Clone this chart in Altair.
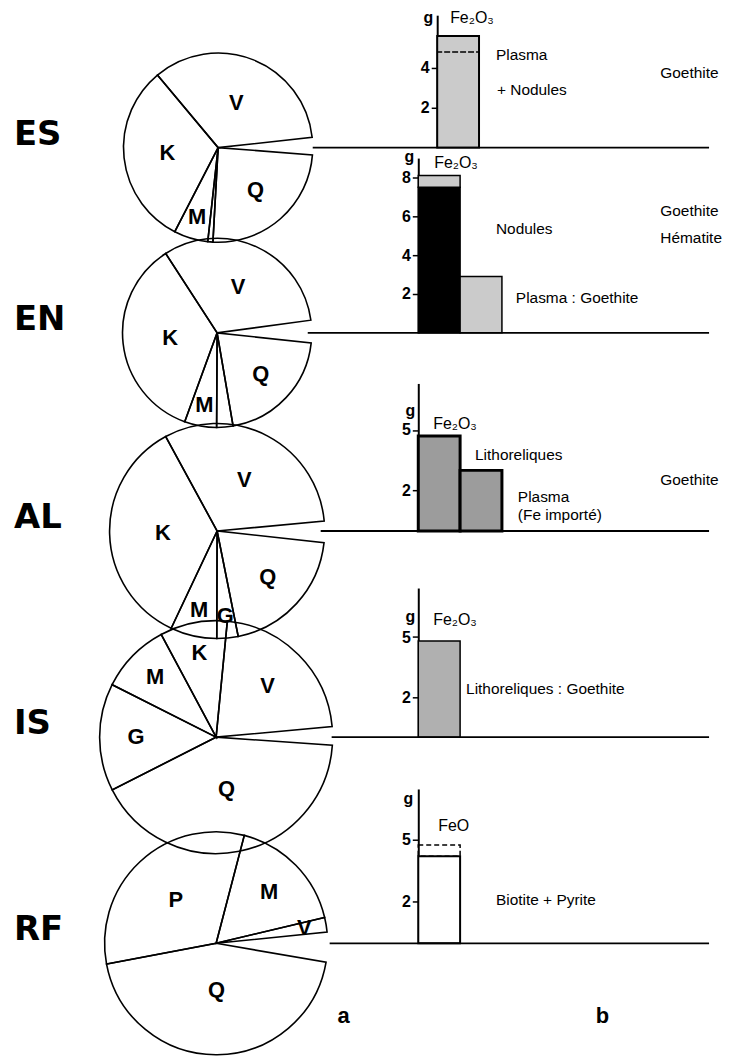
import math
import altair as alt
import pandas as pd

# ---------------- data ----------------
ROWS = ["ES", "EN", "AL", "IS", "RF"]

# a : mineral composition (share of the drawn circle, clockwise from the notch)
ES_minerals = ["Q", "", "M", "K", "V"]
ES_pct = [25.4, 0.9, 6.0, 32.3, 35.4]
EN_minerals = ["Q", "", "M", "K", "V"]
EN_pct = [21.4, 2.9, 5.7, 36.7, 33.3]
AL_minerals = ["Q", "G", "M", "K", "V"]
AL_pct = [20.8, 3.3, 7.2, 36.2, 32.5]
IS_minerals = ["Q", "G", "M", "K", "V"]
IS_pct = [42.5, 15.3, 10.0, 9.6, 22.6]
RF_minerals = ["Q", "P", "M", "V"]
RF_pct = [46.3, 33.5, 18.0, 2.2]

# b : iron oxide stocks (g)
ES_bars = ["Plasma + Nodules"]
ES_parts = ["Goethite"]
ES_g = [5.6]
ES_tex = ["light"]
ES_dash = [4.8, 4.8]          # dashed limit inside the bar

EN_bars = ["Nodules", "Nodules", "Plasma"]
EN_parts = ["Hématite", "Goethite", "Goethite"]
EN_g = [7.5, 0.6, 2.9]
EN_tex = ["black", "light", "light"]

AL_bars = ["Lithoreliques", "Plasma"]
AL_parts = ["Goethite", "Goethite"]
AL_g = [4.7, 3.0]
AL_tex = ["dark", "dark"]

IS_bars = ["Lithoreliques"]
IS_parts = ["Goethite"]
IS_g = [4.8]
IS_tex = ["mid"]

RF_bars = ["Biotite + Pyrite"]
RF_parts = ["FeO"]
RF_g = [4.2]
RF_tex = ["white"]
RF_dash = [4.2, 4.75]         # dashed extension above the bar

OXIDE = {"ES": "Fe₂O₃", "EN": "Fe₂O₃", "AL": "Fe₂O₃", "IS": "Fe₂O₃", "RF": "FeO"}
TICKS = {"ES": [2, 4], "EN": [2, 4, 6, 8], "AL": [2, 5], "IS": [2, 5], "RF": [2, 5]}

ES_notes = ["Plasma", "+ Nodules", "Goethite"]
EN_notes = ["Nodules", "Goethite", "Hématite", "Plasma : Goethite"]
AL_notes = ["Lithoreliques", "Goethite", "Plasma", "(Fe importé)"]
IS_notes = ["Lithoreliques : Goethite"]
RF_notes = ["Biotite + Pyrite"]
PANEL_LETTERS = ["a", "b"]

TEX_DOMAIN = ["light", "mid", "dark", "black", "white"]
TEX_RANGE = ["#cbcbcb", "#b0b0b0", "#9c9c9c", "#000000", "#ffffff"]

# ---------------- layout (page pixels) ----------------
RIGHT = 712
VX = 420   # left edge of the bar panels
L = {
    "ES": dict(top=8, base=146, axis=439, cx=219, R=95, t0=94.4, span=349.4, ppu=20.0, ymax=6.65,
               sw=2.0, line0=314,
               notes=[(498, 53), (499, 88), (663, 71)], g=(430, 16), ox=(452, 16)),
    "EN": dict(top=146, base=332, axis=420, cx=218, R=95, t0=96.2, span=346.1, ppu=19.5, ymax=9.0,
               sw=1.5, line0=309,
               notes=[(498, 228), (663, 210), (663, 237), (518, 297)], g=(411, 155), ox=(436, 161)),
    "AL": dict(top=332, base=531, axis=420, cx=218, R=108, t0=96.2, span=348.5, ppu=20.3, ymax=7.3,
               sw=3.0, line0=322,
               notes=[(477, 455), (663, 480), (520, 497), (520, 515)], g=(412, 411), ox=(435, 424)),
    "IS": dict(top=531, base=738, axis=420, cx=217, R=117, t0=94.0, span=350.8, ppu=20.1, ymax=7.45,
               sw=1.5, line0=333,
               notes=[(468, 690)], g=(412, 617), ox=(435, 620)),
    "RF": dict(top=738, base=945, axis=420, cx=217, R=112, t0=99.8, span=344.4, ppu=20.8, ymax=7.45,
               sw=2.0, line0=331,
               notes=[(498, 902)], g=(410, 800), ox=(440, 827)),
}

PIES = {"ES": (ES_minerals, ES_pct), "EN": (EN_minerals, EN_pct), "AL": (AL_minerals, AL_pct),
        "IS": (IS_minerals, IS_pct), "RF": (RF_minerals, RF_pct)}
BARS = {"ES": (ES_bars, ES_parts, ES_g, ES_tex), "EN": (EN_bars, EN_parts, EN_g, EN_tex),
        "AL": (AL_bars, AL_parts, AL_g, AL_tex), "IS": (IS_bars, IS_parts, IS_g, IS_tex),
        "RF": (RF_bars, RF_parts, RF_g, RF_tex)}
DASH = {"ES": ES_dash, "RF": RF_dash}
NOTES = {"ES": ES_notes, "EN": EN_notes, "AL": AL_notes, "IS": IS_notes, "RF": RF_notes}

SANS = "Liberation Sans"


def text_layer(txt, x, y, size=15.5, weight="normal", align="left", font=SANS):
    return alt.Chart(pd.DataFrame({"t": [txt]})).mark_text(
        font=font, fontSize=size, fontWeight=weight, align=align, baseline="middle", color="black"
    ).encode(text="t:N", x=alt.value(x), y=alt.value(y))


def pie_view(row):
    c = L[row]
    h = c["base"] - c["top"]
    w = VX - 8
    cx = c["cx"] - 8
    R = c["R"]
    minerals, pct = PIES[row]
    df = pd.DataFrame({"mineral": minerals, "pct": pct, "k": list(range(len(pct)))})
    a0 = math.radians(c["t0"])
    a1 = math.radians(c["t0"] + c["span"])
    base = alt.Chart(df).encode(
        theta=alt.Theta("pct:Q", stack=True, scale=alt.Scale(range=[a0, a1])),
        order=alt.Order("k:Q"),
        x=alt.value(cx),
        y=alt.value(h),
    )
    arcs = base.mark_arc(outerRadius=R, fill="transparent", stroke="black", strokeWidth=1.6)
    labels = base.mark_text(font=SANS, fontSize=22, fontWeight="bold", color="black").encode(
        radius=alt.Radius("pct:Q", scale=alt.Scale(type="linear", domain=[0, 46],
                                                     range=[0.82 * R, 0.42 * R])),
        text="mineral:N",
    )
    name = text_layer(row, 6, h - 13, size=34, weight="bold", font="DejaVu Sans")
    layers = [arcs, labels, name]
    if row == "RF":
        layers.append(text_layer(PANEL_LETTERS[0], 345 - 8, 1018 - c["top"], size=22,
                                 weight="bold", align="center"))
    return alt.layer(*layers).properties(width=w, height=h)


def bar_view(row):
    c = L[row]
    h = c["base"] - c["top"]
    w = RIGHT - VX
    ax = c["axis"] - VX
    top_px = h - c["ymax"] * c["ppu"]
    bars, parts, g, tex = BARS[row]
    df = pd.DataFrame({"bar": bars, "part": parts, "g": g, "tex": tex, "k": list(range(len(g)))})
    dom = list(dict.fromkeys(bars))
    xscale = alt.Scale(domain=dom, range=[ax, ax + 42 * len(dom)], paddingInner=0, paddingOuter=0)
    yscale = alt.Scale(domain=[0, c["ymax"]], range=[h, top_px], nice=False, zero=True)
    yaxis = alt.Axis(values=TICKS[row], title=None, grid=False, domainColor="black", domainWidth=2,
                     tickColor="black", tickWidth=1.5, tickSize=6, labelFont=SANS, labelFontSize=16,
                     labelFontWeight="bold", labelColor="black", labelPadding=2, offset=-ax)
    bars_l = alt.Chart(df).mark_bar(stroke="black", strokeWidth=c["sw"]).encode(
        x=alt.X("bar:N", scale=xscale, axis=None),
        y=alt.Y("g:Q", stack="zero", scale=yscale, axis=yaxis),
        fill=alt.Fill("tex:N", scale=alt.Scale(domain=TEX_DOMAIN, range=TEX_RANGE), legend=None),
        order=alt.Order("k:Q"),
    )
    layers = [bars_l]
    if row in DASH:
        lo, hi = DASH[row]
        ddf = pd.DataFrame({"bar": [dom[0]], "lo": [lo], "hi": [hi]})
        layers.append(
            alt.Chart(ddf).mark_bar(fill="transparent", stroke="black", strokeWidth=1.5,
                                    strokeDash=[5, 3]).encode(
                x=alt.X("bar:N", scale=xscale, axis=None),
                y=alt.Y("lo:Q", scale=yscale, axis=yaxis),
                y2="hi:Q",
            )
        )
    # baseline
    layers.append(
        alt.Chart(pd.DataFrame({"z": [0]})).mark_rule(color="black", strokeWidth=1.8).encode(
            x=alt.value(c["line0"] - VX), x2=alt.value(w), y=alt.value(h)
        )
    )
    gx, gy = c["g"]
    layers.append(text_layer("g", gx - VX, gy - c["top"], size=16, weight="bold", align="center"))
    ox, oy = c["ox"]
    layers.append(text_layer(OXIDE[row], ox - VX, oy - c["top"], size=16))
    for txt, (px, py) in zip(NOTES[row], c["notes"]):
        layers.append(text_layer(txt, px - VX, py - c["top"]))
    if row == "RF":
        layers.append(text_layer(PANEL_LETTERS[1], 605 - VX, 1018 - c["top"], size=22,
                                 weight="bold", align="center"))
    return alt.layer(*layers).properties(width=w, height=h)


cells = []
for r in ROWS:
    cells.append(pie_view(r))
    cells.append(bar_view(r))

chart = alt.concat(*cells, columns=2, spacing=0, bounds="flush").properties(
    padding=0
).configure_view(strokeWidth=0)

chart.save("out.html", embed_options={"renderer": "svg", "actions": False})
